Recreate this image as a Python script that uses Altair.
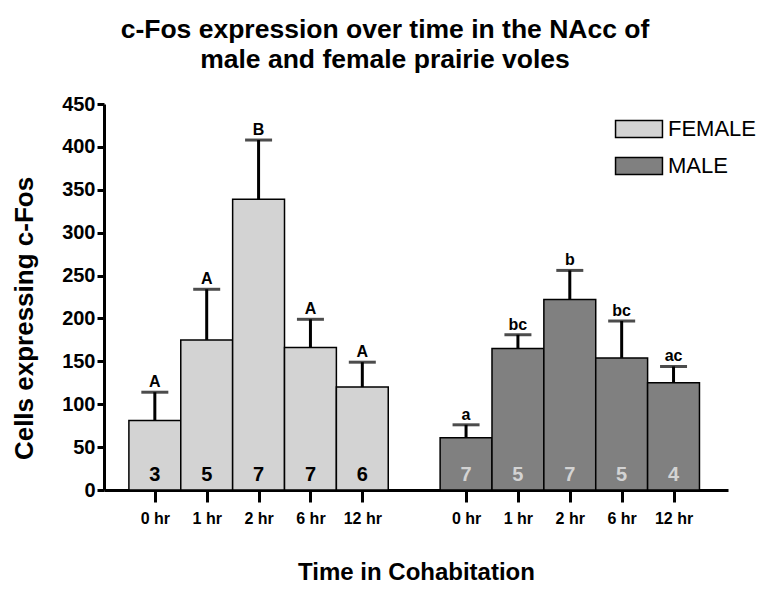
import json
import altair as alt
import pandas as pd

times = ["0 hr", "1 hr", "2 hr", "6 hr", "12 hr"]
groups = ["FEMALE", "MALE"]

female_mean = [81, 175, 339, 166, 120]
female_sem = [33, 59, 69, 33, 29]
female_n = [3, 5, 7, 7, 6]
female_letters = ["A", "A", "B", "A", "A"]

male_mean = [61, 165, 222, 154, 125]
male_sem = [15, 16, 34, 43, 19]
male_n = [7, 5, 7, 5, 4]
male_letters = ["a", "bc", "b", "bc", "ac"]

rows = []
for g, means, sems, ns, lets, off in [
    ("FEMALE", female_mean, female_sem, female_n, female_letters, 0),
    ("MALE", male_mean, male_sem, male_n, male_letters, 6),
]:
    for i, t in enumerate(times):
        rows.append(dict(group=g, time=t, pos=i + off, x0=i + off - 0.5, x1=i + off + 0.5,
                         mean=means[i], top=means[i] + sems[i], n=str(ns[i]), letter=lets[i]))
df = pd.DataFrame(rows)

FONT = "Liberation Sans"
W, H = 624, 386

xscale = alt.Scale(domain=[-0.98, 11.05], nice=False, zero=False)
yscale = alt.Scale(domain=[0, 450], nice=False)

xaxis = alt.Axis(
    values=[0, 1, 2, 3, 4, 6, 7, 8, 9, 10],
    labelExpr=f"{json.dumps(times)}[datum.value % 6]",
    grid=False, domainWidth=3, domainColor="black", tickWidth=3, tickColor="black",
    tickSize=12, labelPadding=8, labelFont=FONT, labelFontWeight="bold",
    labelFontSize=16, labelColor="black", title="Time in Cohabitation",
    titleFont=FONT, titleFontSize=24, titleFontWeight="bold", titleColor="black",
    titleY=82, titleBaseline="middle",
)
yaxis = alt.Axis(
    values=list(range(0, 451, 50)), grid=False, domainWidth=3, domainColor="black",
    tickWidth=3, tickColor="black", tickSize=7, labelPadding=2, labelFont=FONT,
    labelFontWeight="bold", labelFontSize=20, labelColor="black",
    title="Cells expressing c-Fos", titleFont=FONT, titleFontSize=26,
    titleFontWeight="bold", titleColor="black", titleX=-80, titleY=214,
    titleBaseline="middle", titleAlign="center",
)

base = alt.Chart(df)

bars = base.mark_bar(stroke="black", strokeWidth=1.5).encode(
    x=alt.X("x0:Q", scale=xscale, axis=xaxis),
    x2="x1:Q",
    y=alt.Y("mean:Q", scale=yscale, axis=yaxis),
    y2=alt.datum(0),
    color=alt.Color(
        "group:N",
        scale=alt.Scale(domain=groups, range=["#d3d3d3", "#808080"]),
        legend=alt.Legend(
            title=None, orient="none", legendX=524, legendY=14,
            symbolType="M-2.76,-1L2.76,-1L2.76,1L-2.76,1Z", symbolSize=289,
            symbolStrokeColor="black", symbolStrokeWidth=1.5, symbolOpacity=1,
            labelOffset=18, labelFont=FONT, labelFontSize=22, labelColor="black",
            rowPadding=13, padding=0,
        ),
    ),
)

err = base.mark_rule(color="black", strokeWidth=3).encode(
    x=alt.X("pos:Q", scale=xscale), y=alt.Y("mean:Q", scale=yscale), y2="top:Q"
)
caps = base.mark_tick(color="black", thickness=3, size=27, orient="horizontal").encode(
    x=alt.X("pos:Q", scale=xscale), y=alt.Y("top:Q", scale=yscale)
)
letters = base.mark_text(font=FONT, fontWeight="bold", fontSize=16, baseline="alphabetic",
                         dy=-5, color="black").encode(
    x=alt.X("pos:Q", scale=xscale), y=alt.Y("top:Q", scale=yscale), text="letter:N"
)
nlabels = base.mark_text(font=FONT, fontWeight="bold", fontSize=20, baseline="middle",
                         dy=-15).encode(
    x=alt.X("pos:Q", scale=xscale), y=alt.datum(0), text="n:N",
    color=alt.Color("group:N", scale=alt.Scale(domain=groups, range=["black", "#d3d3d3"]),
                    legend=None),
)

chart = alt.layer(bars, err, caps, letters, nlabels).resolve_scale(color="independent").properties(
    width=W, height=H,
    title=alt.TitleParams(
        text=["c-Fos expression over time in the NAcc of", "male and female prairie voles"],
        font=FONT, fontSize=26.5, fontWeight="bold", color="black", anchor="middle",
        dx=-31, offset=21, lineHeight=30,
    ),
    autosize=alt.AutoSizeParams(type="none"),
    padding={"left": 96, "top": 96, "right": 34, "bottom": 93},
).configure_view(stroke=None)

chart.save("out.html", embed_options={"renderer": "svg", "actions": False})
